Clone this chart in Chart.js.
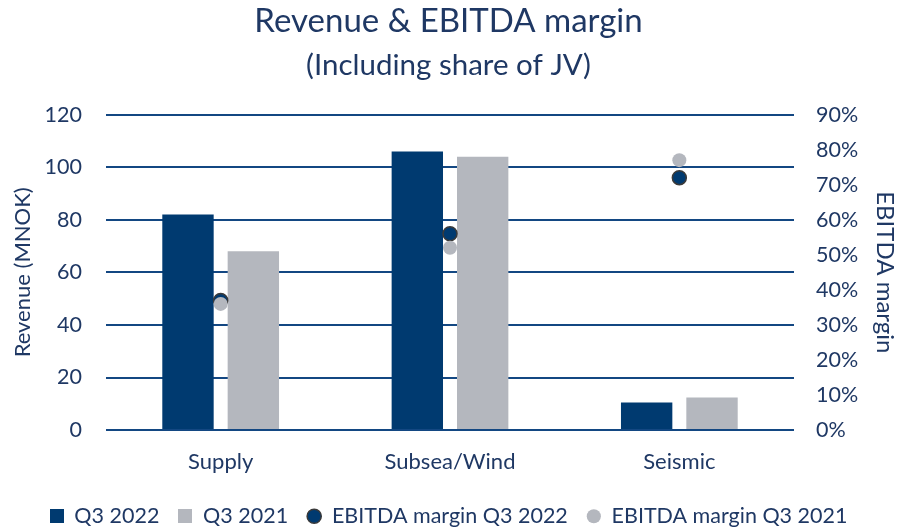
<!DOCTYPE html>
<html>
<head>
<meta charset="utf-8">
<script src="https://cdn.jsdelivr.net/npm/chart.js@4.4.0/dist/chart.umd.min.js"></script>
<style>
  html, body { margin: 0; padding: 0; background: #fff; }
  #wrap { width: 897px; height: 527px; }
</style>
</head>
<body>
<div id="wrap"><canvas id="myChart"></canvas></div>
<script>
// data
const categories = ['Supply', 'Subsea/Wind', 'Seismic'];
const revenueQ3_2022 = [82, 106, 10.5];
const revenueQ3_2021 = [68, 104, 12.4];
const marginQ3_2022 = [37, 56, 72];
const marginQ3_2021 = [36, 52, 77];
const revenueTicks = [0, 20, 40, 60, 80, 100, 120];
const marginTicks = [0, 10, 20, 30, 40, 50, 60, 70, 80, 90];

const navy = '#003A70';
const grey = '#B4B7BE';
const textCol = '#1F3864';
const gridCol = '#134782';

Chart.defaults.font.family = 'Lato, "Open Sans", sans-serif';
Chart.defaults.color = textCol;

// little square used as legend marker for the bars
const square = (col) => {
  const c = document.createElement('canvas');
  c.width = 14;
  c.height = 14;
  const g = c.getContext('2d');
  g.fillStyle = col;
  g.fillRect(0, 0, 14, 14);
  return c;
};

const data = {
  labels: categories,
  datasets: [
    {
      type: 'bar',
      label: 'Q3 2022',
      data: revenueQ3_2022,
      backgroundColor: navy,
      yAxisID: 'y',
      order: 2,
      pointStyle: square(navy),
      categoryPercentage: 0.57,
      barPercentage: 0.786
    },
    {
      type: 'bar',
      label: 'Q3 2021',
      data: revenueQ3_2021,
      backgroundColor: grey,
      yAxisID: 'y',
      order: 3,
      pointStyle: square(grey),
      categoryPercentage: 0.57,
      barPercentage: 0.786
    },
    {
      type: 'line',
      label: 'EBITDA margin Q3 2022',
      data: marginQ3_2022,
      showLine: false,
      backgroundColor: navy,
      borderColor: '#3a3a3a',
      borderWidth: 1.5,
      pointRadius: 7,
      pointStyle: 'circle',
      yAxisID: 'y1',
      order: 1
    },
    {
      type: 'line',
      label: 'EBITDA margin Q3 2021',
      data: marginQ3_2021,
      showLine: false,
      backgroundColor: grey,
      borderColor: grey,
      borderWidth: 0,
      pointRadius: 7,
      pointStyle: 'circle',
      yAxisID: 'y1',
      order: 0
    }
  ]
};

const config = {
  data,
  options: {
    responsive: true,
    maintainAspectRatio: false,
    animation: false,
    layout: { padding: { left: 0, right: 0, top: 2, bottom: -10 } },
    plugins: {
      title: {
        display: true,
        text: 'Revenue & EBITDA margin',
        color: textCol,
        font: { size: 33, weight: 'normal' },
        padding: { top: 0, bottom: 6.6 }
      },
      subtitle: {
        display: true,
        text: '(Including share of JV)',
        color: textCol,
        font: { size: 29.5, weight: 'normal' },
        padding: { top: 0, bottom: 31 }
      },
      legend: {
        position: 'bottom',
        labels: {
          usePointStyle: true,
          boxWidth: 14,
          boxHeight: 10,
          padding: 19,
          color: textCol,
          font: { size: 21.5, lineHeight: 1 },
          sort: (a, b) => a.datasetIndex - b.datasetIndex
        }
      },
      tooltip: { enabled: false }
    },
    scales: {
      x: {
        type: 'category',
        grid: { display: false },
        border: { display: false },
        ticks: { font: { size: 22 }, color: textCol, padding: 11 }
      },
      y: {
        position: 'left',
        min: 0,
        max: 120,
        afterBuildTicks: (s) => { s.ticks = revenueTicks.map(v => ({ value: v })); },
        afterFit: (s) => { s.width = 106; },
        grid: { color: gridCol, lineWidth: 2, drawTicks: false },
        border: { display: false },
        ticks: { font: { size: 21.5 }, color: textCol, padding: 24 },
        title: {
          display: true,
          text: 'Revenue (MNOK)',
          color: textCol,
          font: { size: 22, lineHeight: 1 },
          padding: { top: 12, bottom: 0 }
        }
      },
      y1: {
        position: 'right',
        min: 0,
        max: 90,
        afterBuildTicks: (s) => { s.ticks = marginTicks.map(v => ({ value: v })); },
        afterFit: (s) => { s.width = 103; },
        grid: { display: false, drawTicks: false },
        border: { display: false },
        ticks: { font: { size: 21.5 }, color: textCol, padding: 22, callback: (v) => v + '%' },
        title: {
          display: true,
          text: 'EBITDA margin',
          color: textCol,
          font: { size: 24, lineHeight: 1 },
          padding: { top: 0, bottom: 0 }
        }
      }
    }
  }
};

const myChart = new Chart(document.getElementById('myChart'), config);
</script>
</body>
</html>
